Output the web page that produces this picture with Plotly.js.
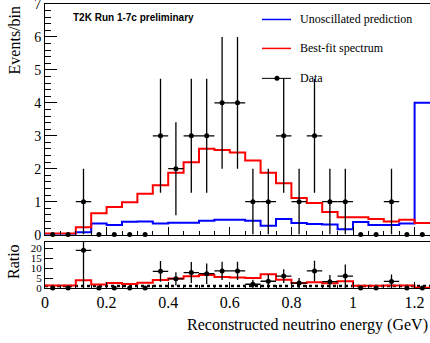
<!DOCTYPE html>
<html><head><meta charset="utf-8">
<script src="https://cdn.plot.ly/plotly-3.0.1.min.js"></script>
<style>html,body{margin:0;padding:0;background:#fff}#chart{width:430px;height:343px}</style>
</head><body><div id="chart"></div>
<script>
// Bin edges and centres (GeV)
const binEdges = [0,0.05,0.1,0.15,0.2,0.25,0.3,0.35,0.4,0.45,0.5,0.55,0.6,0.65,0.7,0.75,0.8,0.85,0.9,0.95,1.0,1.05,1.1,1.15,1.2,1.25];
const binCenters = [0.025,0.075,0.125,0.175,0.225,0.275,0.325,0.375,0.425,0.475,0.525,0.575,0.625,0.675,0.725,0.775,0.825,0.875,0.925,0.975,1.025,1.075,1.125,1.175,1.225];
// Events per bin
const unoscillated = [0.02,0.02,0.07,0.34,0.29,0.39,0.40,0.34,0.36,0.36,0.42,0.45,0.45,0.42,0.27,0.47,0.35,0.32,0.31,0.16,0.38,0.29,0.29,0.34,4.0];
const bestFit = [0.03,0.03,0.22,0.65,0.84,0.98,1.24,1.50,1.88,2.20,2.61,2.57,2.49,2.25,1.88,1.56,1.11,0.96,0.69,0.53,0.53,0.47,0.40,0.45,0.35];
const dataCounts = [0,0,1,0,0,0,0,3,2,3,3,4,4,1,1,3,1,3,1,1,0,0,1,0,0];
const dataErr = [0,0,1,0,0,0,0,1.73,1.41,1.73,1.73,2,2,1,1,1.73,1,1.73,1,1,0,0,1,0,0];
const dataXErr = [0,0,0.025,0,0,0,0,0.025,0.025,0.025,0.025,0.025,0.025,0.025,0.025,0.025,0.025,0.025,0.025,0.025,0,0,0.025,0,0];
// Ratio panel
const ratioBestFit = [1.2,1.2,3.9,1.7,2.5,2.0,2.7,4.0,4.8,5.9,6.6,5.6,5.3,5.1,6.9,4.2,2.5,2.9,2.4,3.4,1.1,1.1,1.3,1.3,0.1];
const ratioData = [0,0,19.0,0,0,0,0,8.4,4.6,7.8,7.2,8.6,8.6,1.9,3.4,6.0,2.5,8.6,3.2,6.0,0,0,3.3,0,0];
const ratioErrUp = [0,0,4.3,0,0,0,0,5.2,3.3,5.3,5.2,4.6,4.6,2.3,3.5,3.5,2.5,5.2,3.3,5.8,0,0,3.5,0,0];
const ratioErrDown = [0,0,19,0,0,0,0,5.2,3.3,5.3,5.2,4.6,4.6,1.9,3.4,3.5,2.5,5.2,3.2,6.0,0,0,3.3,0,0];
const unityLine = [1,1];
const unityX = [0,1.25];

const xTickVals = [0,0.2,0.4,0.6,0.8,1.0,1.2];
const xTickText = ['0','0.2','0.4','0.6','0.8','1','1.2'];
const yTickVals = [0,1,2,3,4,5,6,7];
const ratioTickVals = [0,5,10,15,20];

function stepY(v){ return v.concat([v[v.length-1]]); }

const serif = 'Liberation Serif, Times New Roman, serif';
const traces = [
  {x: binEdges, y: stepY(unoscillated), type:'scatter', mode:'lines', line:{shape:'hv', color:'rgb(0,0,255)', width:2}, xaxis:'x', yaxis:'y', hoverinfo:'skip'},
  {x: binEdges, y: stepY(bestFit), type:'scatter', mode:'lines', line:{shape:'hv', color:'rgb(255,0,0)', width:2}, xaxis:'x', yaxis:'y', hoverinfo:'skip'},
  {x: binCenters, y: dataCounts, type:'scatter', mode:'markers', marker:{color:'#000', size:5},
   error_y:{type:'data', array:dataErr, visible:true, color:'#000', thickness:1.3, width:0},
   error_x:{type:'data', array:dataXErr, visible:true, color:'#000', thickness:1.3, width:0},
   cliponaxis:false, xaxis:'x', yaxis:'y'},
  {x: unityX, y: unityLine, type:'scatter', mode:'lines', line:{color:'#000', width:2.5, dash:'dot'}, xaxis:'x2', yaxis:'y2', hoverinfo:'skip'},
  {x: binEdges, y: stepY(ratioBestFit), type:'scatter', mode:'lines', line:{shape:'hv', color:'rgb(255,0,0)', width:2}, xaxis:'x2', yaxis:'y2', hoverinfo:'skip'},
  {x: binCenters, y: ratioData, type:'scatter', mode:'markers', marker:{color:'#000', size:5},
   error_y:{type:'data', symmetric:false, array:ratioErrUp, arrayminus:ratioErrDown, visible:true, color:'#000', thickness:1.3, width:0},
   error_x:{type:'data', array:dataXErr, visible:true, color:'#000', thickness:1.3, width:0},
   cliponaxis:false, xaxis:'x2', yaxis:'y2'}
];

// pixel -> paper helpers for decorations (plot area: x 45..430, y 3.5..288)
const PL=45, PW=385, PB=288, PH=284.5;
const px = p => (p-PL)/PW;
const py = p => (PB-p)/PH;

const layout = {
  width:430, height:343,
  margin:{l:45, r:0, t:3.5, b:55, pad:0},
  paper_bgcolor:'#fff', plot_bgcolor:'#fff',
  showlegend:false,
  font:{family:serif, color:'#000'},
  xaxis:{domain:[0,1], range:[0,1.25], anchor:'y', showline:true, linecolor:'#000', linewidth:1, mirror:true,
    ticks:'inside', tickvals:xTickVals, ticklen:8, tickcolor:'#000', showticklabels:false, showgrid:false, zeroline:false,
    minor:{dtick:0.05, tick0:0, ticks:'inside', ticklen:4, tickcolor:'#000', showgrid:false}},
  yaxis:{domain:[0.188,1], range:[0,7.0001], anchor:'x', showline:true, linecolor:'#000', linewidth:1,
    ticks:'inside', tickvals:yTickVals, ticklen:12, tickcolor:'#000', showgrid:false, zeroline:false,
    ticklabeloverflow:'allow',
    tickfont:{family:serif, size:14, color:'#000'},
    minor:{dtick:0.2, tick0:0, ticks:'inside', ticklen:6, tickcolor:'#000', showgrid:false}},
  xaxis2:{domain:[0,1], range:[0,1.25], anchor:'y2', showline:true, linecolor:'#000', linewidth:1, mirror:true,
    ticks:'inside', tickvals:xTickVals, ticktext:xTickText, ticklen:6, tickcolor:'#000', showgrid:false, zeroline:false,
    tickfont:{family:serif, size:16, color:'#000'},
    minor:{dtick:0.05, tick0:0, ticks:'inside', ticklen:3, tickcolor:'#000', showgrid:false}},
  yaxis2:{domain:[0,0.1634], range:[0,23.4], anchor:'x2', showline:true, linecolor:'#000', linewidth:1,
    ticks:'inside', tickvals:ratioTickVals, ticklen:8, tickcolor:'#000', showgrid:false, zeroline:false,
    tickfont:{family:serif, size:11, color:'#000'}},
  shapes:[
    {type:'line', xref:'paper', yref:'paper', x0:px(262), x1:px(291), y0:py(19), y1:py(19), line:{color:'rgb(0,0,255)', width:1.5}},
    {type:'line', xref:'paper', yref:'paper', x0:px(262), x1:px(291), y0:py(48), y1:py(48), line:{color:'rgb(255,0,0)', width:1.5}},
    {type:'line', xref:'paper', yref:'paper', x0:px(262), x1:px(291), y0:py(78), y1:py(78), line:{color:'#000', width:1}},
    {type:'circle', xref:'paper', yref:'paper', xsizemode:'pixel', ysizemode:'pixel', xanchor:px(277), yanchor:py(78), x0:-2.5, x1:2.5, y0:-2.5, y1:2.5, fillcolor:'#000', line:{width:0}}
  ],
  annotations:[
    {xref:'paper', yref:'paper', x:px(298), y:py(19), xanchor:'left', yanchor:'middle', text:'Unoscillated prediction', showarrow:false, font:{family:serif, size:12, color:'#000'}},
    {xref:'paper', yref:'paper', x:px(298), y:py(48), xanchor:'left', yanchor:'middle', text:'Best-fit spectrum', showarrow:false, font:{family:serif, size:12, color:'#000'}},
    {xref:'paper', yref:'paper', x:px(298), y:py(78), xanchor:'left', yanchor:'middle', text:'Data', showarrow:false, font:{family:serif, size:12, color:'#000'}},
    {xref:'paper', yref:'paper', x:px(71), y:py(17), xanchor:'left', yanchor:'middle', text:'<b>T2K Run 1-7c preliminary</b>', showarrow:false, font:{family:'Liberation Sans, Arial, sans-serif', size:10, color:'#000'}},
    {xref:'paper', yref:'paper', x:px(14), y:py(40), xanchor:'center', yanchor:'middle', textangle:-90, text:'Events/bin', showarrow:false, font:{family:serif, size:16, color:'#000'}},
    {xref:'paper', yref:'paper', x:px(13), y:py(262), xanchor:'center', yanchor:'middle', textangle:-90, text:'Ratio', showarrow:false, font:{family:serif, size:16, color:'#000'}},
    {xref:'paper', yref:'paper', x:px(430), y:py(325), xanchor:'right', yanchor:'middle', text:'Reconstructed neutrino energy (GeV)', showarrow:false, font:{family:serif, size:16, color:'#000'}}
  ]
};

Plotly.newPlot('chart', traces, layout, {staticPlot:true, displayModeBar:false});
</script>
</body></html>
